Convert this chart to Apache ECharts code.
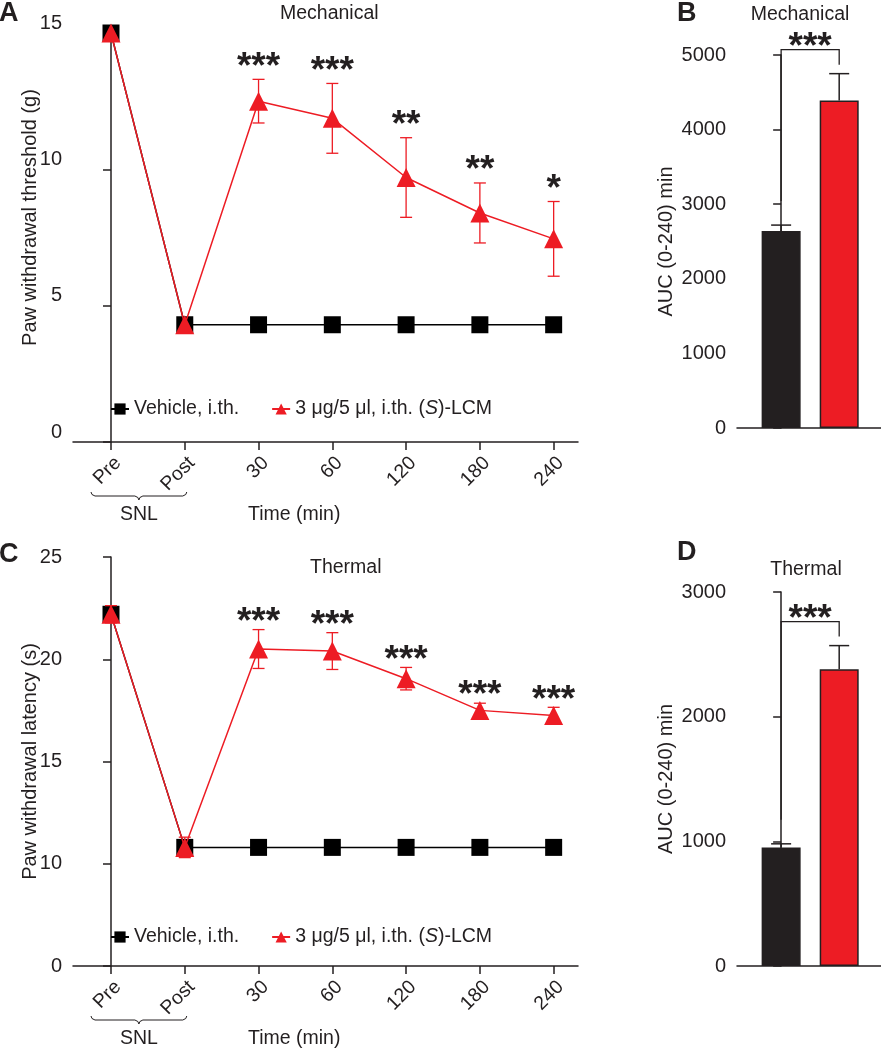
<!DOCTYPE html>
<html><head><meta charset="utf-8">
<script src="https://cdn.jsdelivr.net/npm/echarts@6/dist/echarts.min.js"></script>
<style>html,body{margin:0;padding:0;background:#fff}#c{width:881px;height:1050px}</style>
</head><body><div id="c"></div><script>
// ---------- data ----------
const xLabels = ["Pre", "Post", "30", "60", "120", "180", "240"];
const vehName = "Vehicle, i.th.";
const drugName = "3 μg/5 μl, i.th. (S)-LCM";
const mechVehicle = [15, 4.3, 4.3, 4.3, 4.3, 4.3, 4.3];
const mechDrug = [15, 4.3, 12.5, 11.87, 9.7, 8.4, 7.45];
const mechDrugSem = [0, 0, 0.8, 1.28, 1.46, 1.1, 1.37];
const mechStars = ["", "", "***", "***", "**", "**", "*"];
const thermVehicle = [22.2, 10.8, 10.8, 10.8, 10.8, 10.8, 10.8];
const thermDrug = [22.2, 10.8, 20.5, 20.4, 19.05, 17.5, 17.25];
const thermDrugSem = [0.42, 0.5, 0.95, 0.9, 0.55, 0.35, 0.4];
const thermStars = ["", "", "***", "***", "***", "***", "***"];
const aucMechMean = [2640, 4390];
const aucMechSem = [80, 360];
const aucThermMean = [950, 2380];
const aucThermSem = [30, 190];
const aucStars = "***";

// ---------- style ----------
const F = "Liberation Sans, Arial, Helvetica, sans-serif";
const INK = "#231f20";
const RED = "#ed1c24";
const barColors = [INK, RED];
const xIdx = xLabels.map((_, i) => i);

const chart = echarts.init(document.getElementById('c'), null, {renderer: 'canvas'});

function timeXAxis(gridIndex) {
  return {
    type: 'value', gridIndex, min: -0.515, max: 6.33,
    axisLine: {show: true, lineStyle: {color: INK, width: 1.5}},
    axisTick: {show: true, customValues: xIdx, length: 8, lineStyle: {color: INK, width: 1.5}},
    axisLabel: {customValues: xIdx, formatter: v => xLabels[Math.round(v)], rotate: 45, margin: 11,
      verticalAlign: 'top', fontSize: 19.5, fontFamily: F, color: INK},
    splitLine: {show: false}
  };
}
function barXAxis(gridIndex) {
  return {
    type: 'value', gridIndex, min: -0.76, max: 1.72,
    axisLine: {show: true, lineStyle: {color: INK, width: 1.5}},
    axisTick: {show: false}, axisLabel: {show: false}, splitLine: {show: false}
  };
}
function yAxis(gridIndex, min, max, interval, name, nameGap, opts) {
  return Object.assign({
    type: 'value', gridIndex, min, max, interval, name, nameLocation: 'middle', nameGap,
    nameMoveOverlap: false,
    nameTextStyle: {fontSize: 20, fontFamily: F, color: INK},
    axisLine: {show: true, lineStyle: {color: INK, width: 1.5}},
    axisTick: {show: true, length: 8, lineStyle: {color: INK, width: 1.5}},
    axisLabel: {margin: 11, fontSize: 20, fontFamily: F, color: INK, formatter: v => String(v)},
    splitLine: {show: false}
  }, opts || {});
}

function lineErr(stars, starGap) {
  return function (params, api) {
    const x = api.value(0), m = api.value(1), s = api.value(2);
    const top = api.coord([x, m + s]), bot = api.coord([x, m - s]);
    const children = [];
    const ls = {stroke: RED, lineWidth: 1.3};
    if (s > 0) {
      children.push({type: 'line', shape: {x1: top[0], y1: top[1], x2: bot[0], y2: bot[1]}, style: ls});
      children.push({type: 'line', shape: {x1: top[0] - 6, y1: top[1], x2: top[0] + 6, y2: top[1]}, style: ls});
      children.push({type: 'line', shape: {x1: bot[0] - 6, y1: bot[1], x2: bot[0] + 6, y2: bot[1]}, style: ls});
    }
    const st = stars[params.dataIndex];
    if (st) {
      children.push({type: 'text', style: {text: st, x: top[0], y: top[1] - starGap, align: 'center',
        verticalAlign: 'middle', fontSize: 37, fontWeight: 'bold', fontFamily: F, fill: INK}});
    }
    return {type: 'group', children};
  };
}
function barErr(mean, sem) {
  return function (params, api) {
    const x = api.value(0), m = api.value(1), s = api.value(2);
    const top = api.coord([x, m + s]), base = api.coord([x, m]);
    const ls = {stroke: INK, lineWidth: 1.5};
    const children = [
      {type: 'line', shape: {x1: top[0], y1: top[1], x2: base[0], y2: base[1]}, style: ls},
      {type: 'line', shape: {x1: top[0] - 10, y1: top[1], x2: top[0] + 10, y2: top[1]}, style: ls}
    ];
    if (params.dataIndex === 1) {
      const p0 = api.coord([0, mean[0] + sem[0]]);
      const p1 = api.coord([1, mean[1] + sem[1]]);
      const topY = p1[1] - 24;
      children.push({type: 'polyline', shape: {points: [[p0[0], p0[1] - 24], [p0[0], topY], [p1[0], topY], [p1[0], p1[1] - 9]]},
        style: {stroke: INK, lineWidth: 1.3, fill: null}});
      children.push({type: 'text', style: {text: aucStars, x: (p0[0] + p1[0]) / 2, y: topY - 2, align: 'center',
        verticalAlign: 'middle', fontSize: 37, fontWeight: 'bold', fontFamily: F, fill: INK}});
    }
    return {type: 'group', children};
  };
}

const legendText = {fontSize: 19.5, fontFamily: F, color: INK, rich: {it: {fontSize: 19.5, fontFamily: F, color: INK, fontStyle: 'italic'}}};
const legendFmt = n => n === drugName ? '3 μg/5 μl, i.th. ({it|S})-LCM' : n;

function lineSeries(name, xi, yi, data, color, symbol, size, z) {
  return {type: 'line', name, xAxisIndex: xi, yAxisIndex: yi, data: data.map((v, i) => [i, v]),
    symbol, symbolSize: size, z, lineStyle: {color, width: 1.5}, itemStyle: {color, borderWidth: 0},
    emphasis: {disabled: true}, animation: false};
}

const option = {
  animation: false,
  backgroundColor: '#fff',
  grid: [
    {left: 73, top: 33, width: 505, height: 409},
    {left: 73, top: 557, width: 505, height: 409},
    {left: 737, top: 55, width: 144, height: 373},
    {left: 737, top: 592, width: 144, height: 374}
  ],
  xAxis: [timeXAxis(0), timeXAxis(1), barXAxis(2), barXAxis(3)],
  yAxis: [
    yAxis(0, 0, 15, 5, 'Paw withdrawal threshold (g)', 33,
      {nameTextStyle: {fontSize: 20, fontFamily: F, color: INK, padding: [0, 0, 0, 40]},
       axisLabel: {margin: 11, fontSize: 20, fontFamily: F, color: INK, verticalAlign: 'bottom'}}),
    yAxis(1, 5, 25, 5, 'Paw withdrawal latency (s)', 33,
      {axisLabel: {margin: 11, fontSize: 20, fontFamily: F, color: INK, formatter: v => v === 5 ? '0' : String(v)}}),
    yAxis(2, 0, 5000, 1000, 'AUC (0-240) min', 61),
    yAxis(3, 0, 3000, 1000, 'AUC (0-240) min', 61)
  ],
  legend: [
    {left: 110, top: 399, padding: 0, itemWidth: 18, itemHeight: 14, itemGap: 32, data: [vehName, drugName],
      textStyle: legendText, formatter: legendFmt, selectedMode: false},
    {left: 110, top: 927, padding: 0, itemWidth: 18, itemHeight: 14, itemGap: 32, data: [vehName, drugName],
      textStyle: legendText, formatter: legendFmt, selectedMode: false}
  ],
  series: [
    lineSeries(vehName, 0, 0, mechVehicle, '#000', 'rect', 17, 2),
    {type: 'custom', name: 'errA', xAxisIndex: 0, yAxisIndex: 0, z: 3, encode: {x: 0, y: 1},
      data: mechDrug.map((v, i) => [i, v, mechDrugSem[i]]), renderItem: lineErr(mechStars, 12)},
    lineSeries(drugName, 0, 0, mechDrug, RED, 'triangle', 19, 4),
    lineSeries(vehName, 1, 1, thermVehicle, '#000', 'rect', 17, 2),
    {type: 'custom', name: 'errC', xAxisIndex: 1, yAxisIndex: 1, z: 3, encode: {x: 0, y: 1},
      data: thermDrug.map((v, i) => [i, v, thermDrugSem[i]]), renderItem: lineErr(thermStars, 7)},
    lineSeries(drugName, 1, 1, thermDrug, RED, 'triangle', 19, 4),
    {type: 'bar', name: 'aucMech', xAxisIndex: 2, yAxisIndex: 2, barWidth: 39,
      data: aucMechMean.map((v, i) => [i, v]),
      itemStyle: {color: p => barColors[p.dataIndex], borderColor: INK, borderWidth: 1.5}},
    {type: 'custom', name: 'errB', xAxisIndex: 2, yAxisIndex: 2, z: 3, encode: {x: 0, y: 1},
      data: aucMechMean.map((v, i) => [i, v, aucMechSem[i]]), renderItem: barErr(aucMechMean, aucMechSem)},
    {type: 'bar', name: 'aucTherm', xAxisIndex: 3, yAxisIndex: 3, barWidth: 39,
      data: aucThermMean.map((v, i) => [i, v]),
      itemStyle: {color: p => barColors[p.dataIndex], borderColor: INK, borderWidth: 1.5}},
    {type: 'custom', name: 'errD', xAxisIndex: 3, yAxisIndex: 3, z: 3, encode: {x: 0, y: 1},
      data: aucThermMean.map((v, i) => [i, v, aucThermSem[i]]), renderItem: barErr(aucThermMean, aucThermSem)}
  ]
};
chart.setOption(option);

// ---------- annotations (titles, panel letters, SNL brace) ----------
function txt(text, x, y, size, weight, align) {
  return {type: 'text', x, y, style: {text, fontSize: size, fontWeight: weight || 'normal', fontFamily: F,
    fill: INK, align: align || 'left', verticalAlign: 'middle'}};
}
const g = [];
[[0, 0], [1, 5]].forEach(([gi, y0]) => {
  const o = chart.convertToPixel({xAxisIndex: gi, yAxisIndex: gi}, [0, y0]);
  const p1 = chart.convertToPixel({xAxisIndex: gi, yAxisIndex: gi}, [1, y0]);
  const by = o[1] + 54;
  const xl = o[0] - 20, xr = p1[0] + 2, xm = (xl + xr) / 2;
  g.push({type: 'polyline', shape: {points: [
    [xl, by - 4], [xl + 1, by - 1.5], [xl + 4, by], [xm - 4, by], [xm - 1, by + 1.5], [xm, by + 4],
    [xm + 1, by + 1.5], [xm + 4, by], [xr - 4, by], [xr - 1, by - 1.5], [xr, by - 4]]},
    style: {stroke: INK, lineWidth: 1, fill: null}});
  g.push(txt('SNL', xm, o[1] + 73, 19.5, 'normal', 'center'));
  g.push(txt('Time (min)', 248, o[1] + 73, 19.5, 'normal', 'left'));
});
g.push(txt('A', -1, 14, 27, 'bold'));
g.push(txt('B', 677, 14, 27, 'bold'));
g.push(txt('C', -1, 555, 27, 'bold'));
g.push(txt('D', 677, 553, 27, 'bold'));
g.push(txt('Mechanical', 280, 14, 19.5));
g.push(txt('Mechanical', 800, 15, 19.5, 'normal', 'center'));
g.push(txt('Thermal', 310, 568, 19.5));
g.push(txt('Thermal', 806, 570, 19.5, 'normal', 'center'));
chart.setOption({graphic: g});
</script></body></html>
